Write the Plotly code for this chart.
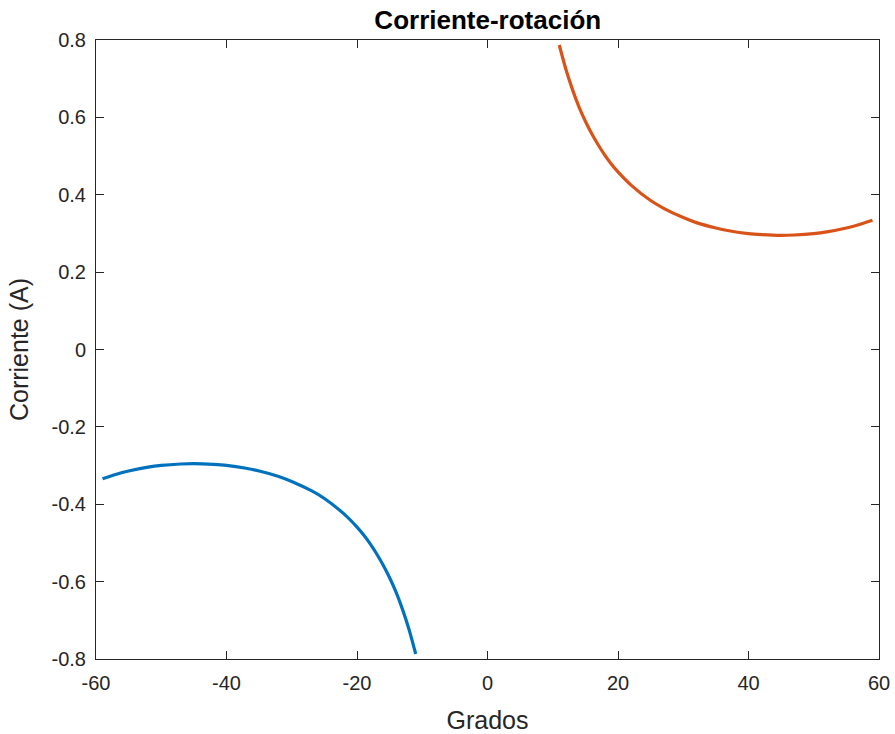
import plotly.graph_objects as go

# Data
blue_x = [-59, -57, -55, -52, -50, -47, -45, -42, -40, -37, -35, -32, -30, -27, -25, -22,
          -20, -19, -18, -17, -16, -15, -14, -13, -12, -11]
blue_y = [-0.334, -0.323, -0.314, -0.304, -0.2996, -0.296, -0.295, -0.297, -0.2996, -0.307,
          -0.314, -0.328, -0.341, -0.365, -0.385, -0.425, -0.459, -0.479, -0.502, -0.528,
          -0.557, -0.590, -0.628, -0.673, -0.725, -0.787]
orange_x = [11, 12, 13, 14, 15, 16, 17, 18, 19, 20, 22, 25, 27, 30, 32, 35, 37, 40, 42, 45,
            47, 50, 52, 55, 57, 59]
orange_y = [0.787, 0.725, 0.673, 0.628, 0.590, 0.557, 0.528, 0.502, 0.479, 0.459, 0.425,
            0.385, 0.365, 0.341, 0.328, 0.314, 0.307, 0.2996, 0.297, 0.295, 0.296, 0.2996,
            0.304, 0.314, 0.323, 0.334]

x_ticks = [-60, -40, -20, 0, 20, 40, 60]
x_labels = ["-60", "-40", "-20", "0", "20", "40", "60"]
y_ticks = [-0.8, -0.6, -0.4, -0.2, 0, 0.2, 0.4, 0.6, 0.8]
y_labels = ["-0.8", "-0.6", "-0.4", "-0.2", "0", "0.2", "0.4", "0.6", "0.8"]

FONT = "Liberation Sans, Arial, Helvetica, sans-serif"

fig = go.Figure()
fig.add_trace(go.Scatter(x=blue_x, y=blue_y, mode="lines",
                         line=dict(color="#0072BD", width=3.2, shape="spline", smoothing=0.6),
                         showlegend=False))
fig.add_trace(go.Scatter(x=orange_x, y=orange_y, mode="lines",
                         line=dict(color="#D95319", width=3.2, shape="spline", smoothing=0.6),
                         showlegend=False))

axis_common = dict(
    showgrid=False, zeroline=False, showline=True, linecolor="#262626", linewidth=1,
    mirror="ticks", ticks="inside", ticklen=8, tickcolor="#262626", tickwidth=1,
    tickfont=dict(family=FONT, size=20, color="#262626"), automargin=False,
)

fig.update_layout(
    width=895, height=734,
    margin=dict(l=96, r=16, t=40, b=75),
    paper_bgcolor="white", plot_bgcolor="white",
    font=dict(family=FONT, color="#262626"),
    title=dict(text="<b>Corriente-rotación</b>", x=0.545, xanchor="center",
               y=0.973, yanchor="middle",
               font=dict(size=26, color="#000000", family=FONT)),
    xaxis=dict(range=[-60, 60], tickvals=x_ticks, ticktext=x_labels,
               title=dict(text="Grados", font=dict(size=25, color="#262626"), standoff=18),
               ticklabelstandoff=6, **axis_common),
    yaxis=dict(range=[-0.8, 0.8], tickvals=y_ticks, ticktext=y_labels,
               title=dict(text="Corriente (A)", font=dict(size=25, color="#262626"), standoff=15),
               ticklabelstandoff=5, **axis_common),
)

fig.write_html("out.html")
